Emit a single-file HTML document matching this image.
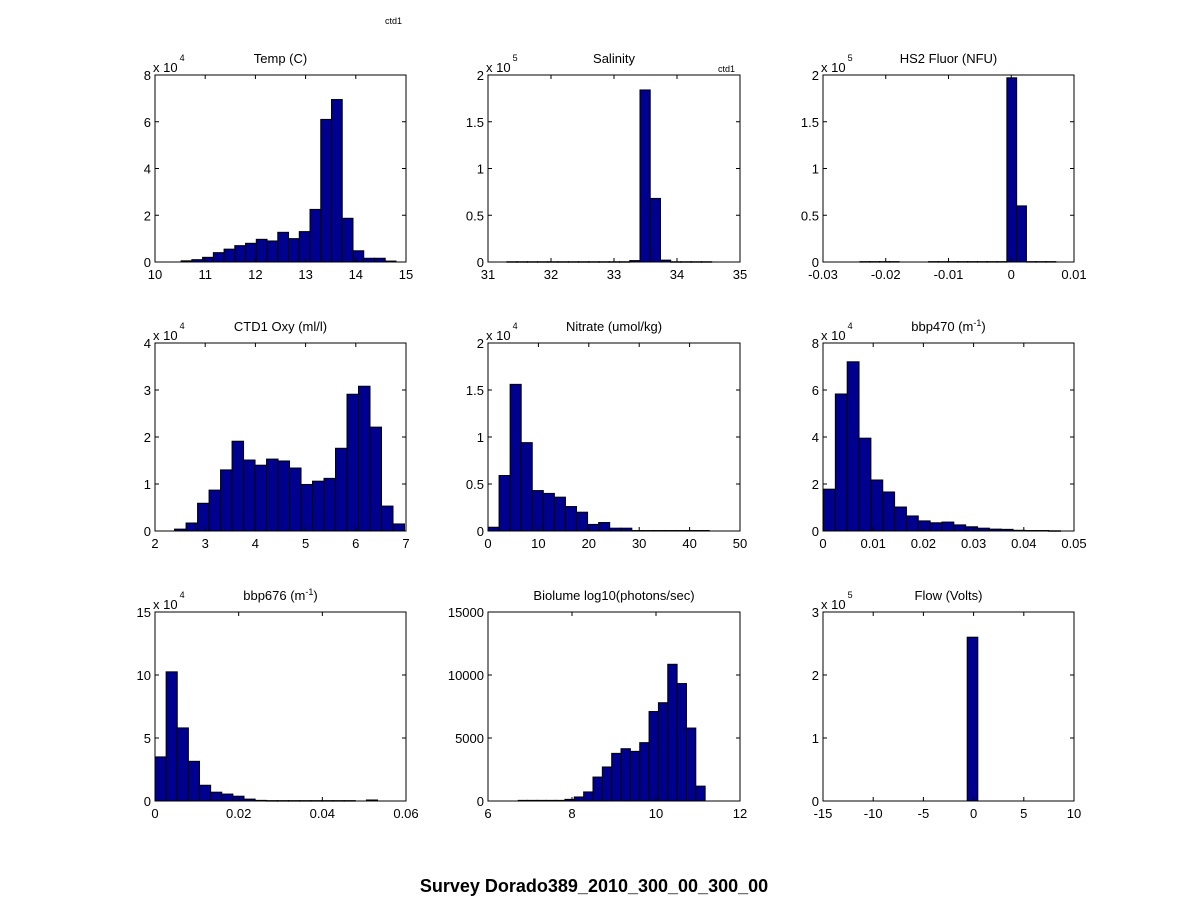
<!DOCTYPE html>
<html><head><meta charset="utf-8">
<style>
html,body{margin:0;padding:0;background:#fff;}
svg{display:block;font-family:"Liberation Sans",Arial,sans-serif;}
</style></head>
<body>
<svg id="fig" width="1188" height="900" viewBox="0 0 1188 900" xmlns="http://www.w3.org/2000/svg">
<rect x="0" y="0" width="1188" height="900" fill="#fff"/>
<text x="385" y="24" font-size="9">ctd1</text>
<text x="594" y="892" font-size="18" font-weight="bold" text-anchor="middle">Survey Dorado389_2010_300_00_300_00</text>
</svg>
<script>
// Temp (C)
const tempCounts = [0.05,0.1,0.2,0.4,0.55,0.7,0.8,0.97,0.9,1.27,1.0,1.3,2.25,6.1,6.95,1.87,0.48,0.16,0.16,0.04];
const tempBin = [10.52, 0.214];
const tempXTicks = [10,11,12,13,14,15];
const tempYTicks = [0,2,4,6,8];
// Salinity
const salCounts = [0.003,0.003,0.003,0.003,0.003,0.003,0.003,0.003,0.003,0.003,0.003,0.003,0.015,1.84,0.68,0.02,0.003,0.003,0.003,0.003];
const salBin = [31.3, 0.1625];
const salXTicks = [31,32,33,34,35];
const salYTicks = [0,0.5,1,1.5,2];
// HS2 Fluor
const fluCounts = [0.004,0.004,0.004,0.004,0,0,0,0.004,0.004,0.004,0.004,0.004,0.004,0.004,0.004,1.97,0.6,0.004,0.004,0.004];
const fluBin = [-0.0241, 0.00156];
const fluXTicks = [-0.03,-0.02,-0.01,0,0.01];
const fluYTicks = [0,0.5,1,1.5,2];
// CTD1 Oxy
const oxyCounts = [0.04,0.17,0.59,0.87,1.3,1.91,1.51,1.4,1.53,1.49,1.34,0.99,1.06,1.12,1.76,2.91,3.08,2.21,0.53,0.15];
const oxyBin = [2.39, 0.229];
const oxyXTicks = [2,3,4,5,6,7];
const oxyYTicks = [0,1,2,3,4];
// Nitrate
const nitCounts = [0.04,0.59,1.56,0.94,0.43,0.4,0.36,0.26,0.2,0.07,0.09,0.03,0.03,0.005,0.005,0.005,0.005,0.005,0.005,0.005];
const nitBin = [0, 2.195];
const nitXTicks = [0,10,20,30,40,50];
const nitYTicks = [0,0.5,1,1.5,2];
// bbp470
const b470Counts = [1.78,5.83,7.2,3.95,2.17,1.66,1.02,0.64,0.43,0.35,0.38,0.26,0.18,0.12,0.08,0.07,0.03,0.02,0.02,0.01];
const b470Bin = [0.0001, 0.00236];
const b470XTicks = [0,0.01,0.02,0.03,0.04,0.05];
const b470YTicks = [0,2,4,6,8];
// bbp676
const b676Counts = [3.5,10.25,5.8,3.15,1.25,0.7,0.55,0.38,0.15,0.05,0.03,0.03,0.03,0.03,0.03,0.03,0.03,0.03,0,0.08];
const b676Bin = [0, 0.00266];
const b676XTicks = [0,0.02,0.04,0.06];
const b676YTicks = [0,5,10,15];
// Biolume
const bioCounts = [50,50,50,50,50,130,320,720,1900,2700,3780,4150,3940,4630,7100,7800,10850,9320,5790,1180];
const bioBin = [6.72, 0.2225];
const bioXTicks = [6,8,10,12];
const bioYTicks = [0,5000,10000,15000];
// Flow
const flowCounts = [2.6];
const flowBin = [-0.64, 1.06];
const flowXTicks = [-15,-10,-5,0,5,10];
const flowYTicks = [0,1,2,3];

const NS = "http://www.w3.org/2000/svg";
const fig = document.getElementById('fig');
function mk(tag, attrs, parent){
  const e = document.createElementNS(NS, tag);
  for (const k in attrs) e.setAttribute(k, attrs[k]);
  parent.appendChild(e);
  return e;
}
function fmt(v){ return String(+v.toPrecision(6)); }

function panel(key, title, box, counts, bin, xt, yt, expo){
  const [L,T,R,B] = box;
  const g = mk('g', {}, fig);
  
  
  const x0 = xt[0], x1 = xt[xt.length-1], y0 = yt[0], y1 = yt[yt.length-1];
  const sx = v => L + (v - x0) / (x1 - x0) * (R - L);
  const sy = v => B - (v - y0) / (y1 - y0) * (B - T);
  const bg = mk('rect', {x:L, y:T, width:R-L, height:B-T, fill:'#fff'}, g);
  
  
  counts.forEach((c, i) => {
    if (c <= 0) return;
    const xa = sx(bin[0] + i*bin[1]), xb = sx(bin[0] + (i+1)*bin[1]);
    const ya = sy(c);
    const r = mk('rect', {x:xa, y:ya, width:xb-xa, height:Math.max(B-ya,0.5), fill:'#00008f', stroke:'#000', 'stroke-width':1}, g);
    
    
  });
  const frame = mk('rect', {x:L, y:T, width:R-L, height:B-T, fill:'none', stroke:'#000', 'stroke-width':1}, g);
  
  
  xt.forEach(v => {
    const x = sx(v);
    mk('line', {x1:x, y1:B, x2:x, y2:B-4, stroke:'#000'}, g);
    mk('line', {x1:x, y1:T, x2:x, y2:T+4, stroke:'#000'}, g);
    const t = mk('text', {x:x, y:B+17, 'font-size':13, 'text-anchor':'middle'}, g);
    
    
    t.textContent = fmt(v);
  });
  yt.forEach(v => {
    const y = sy(v);
    mk('line', {x1:L, y1:y, x2:L+4, y2:y, stroke:'#000'}, g);
    mk('line', {x1:R, y1:y, x2:R-4, y2:y, stroke:'#000'}, g);
    const t = mk('text', {x:L-4, y:y+5, 'font-size':13, 'text-anchor':'end'}, g);
    
    
    t.textContent = fmt(v);
  });
  const tt = mk('text', {x:(L+R)/2, y:T-12, 'font-size':13, 'text-anchor':'middle'}, g);
  
  
  if (typeof title === 'object') {
    tt.appendChild(document.createTextNode(title.a));
    const s = mk('tspan', {'font-size':9, dy:-5}, tt);
    s.textContent = title.sup;
    const r2 = mk('tspan', {dy:5}, tt);
    r2.textContent = title.b;
  } else tt.textContent = title;
  if (expo) {
    const e = mk('text', {x:L-2, y:T-3, 'font-size':13}, g);
    
    
    e.textContent = 'x 10';
    const s = mk('tspan', {'font-size':9, dx:2, dy:-11}, e);
    s.textContent = expo;
  }
}
const C = [[155,406],[488,740],[823,1074]];
const Rw = [[75,262],[343,531],[612,801]];
function bx(c,r){ return [C[c][0], Rw[r][0], C[c][1], Rw[r][1]]; }
panel('temp','Temp (C)',bx(0,0),tempCounts,tempBin,tempXTicks,tempYTicks,'4');
panel('salinity','Salinity',bx(1,0),salCounts,salBin,salXTicks,salYTicks,'5');
panel('fluor','HS2 Fluor (NFU)',bx(2,0),fluCounts,fluBin,fluXTicks,fluYTicks,'5');
panel('oxy','CTD1 Oxy (ml/l)',bx(0,1),oxyCounts,oxyBin,oxyXTicks,oxyYTicks,'4');
panel('nitrate','Nitrate (umol/kg)',bx(1,1),nitCounts,nitBin,nitXTicks,nitYTicks,'4');
panel('bbp470',{a:'bbp470 (m',sup:'-1',b:')'},bx(2,1),b470Counts,b470Bin,b470XTicks,b470YTicks,'4');
panel('bbp676',{a:'bbp676 (m',sup:'-1',b:')'},bx(0,2),b676Counts,b676Bin,b676XTicks,b676YTicks,'4');
panel('biolume','Biolume log10(photons/sec)',bx(1,2),bioCounts,bioBin,bioXTicks,bioYTicks,null);
panel('flow','Flow (Volts)',bx(2,2),flowCounts,flowBin,flowXTicks,flowYTicks,'5');
const c2 = mk('text', {x:718, y:72, 'font-size':9}, fig);


c2.textContent = 'ctd1';
</script>
</body></html>
